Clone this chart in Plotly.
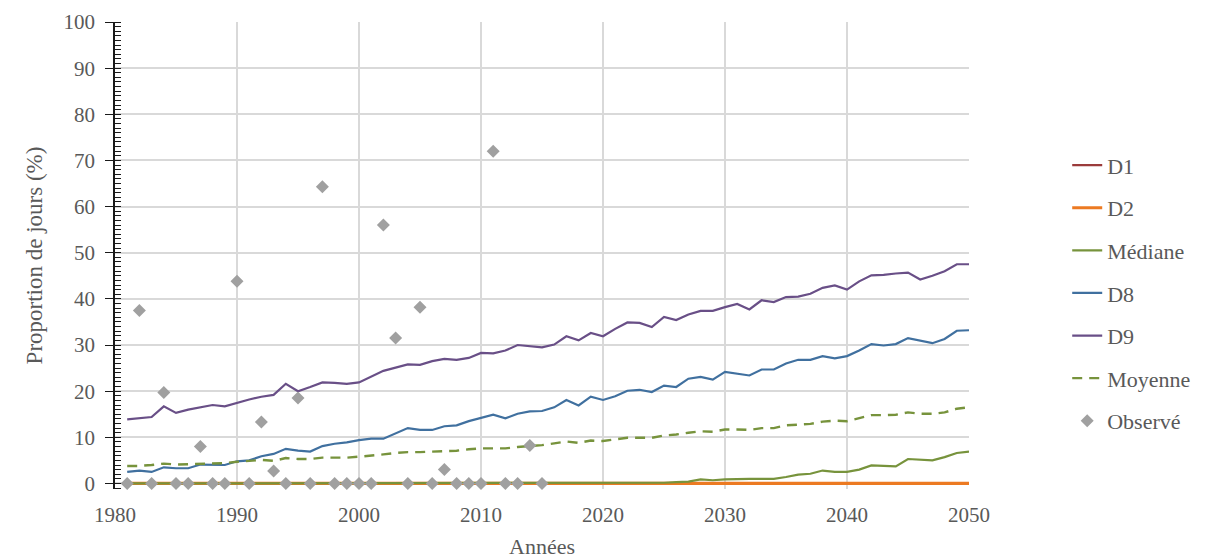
import plotly.graph_objects as go

# Années simulées et observées
years = list(range(1981, 2051))
obs_years = list(range(1981, 2016))

# Proportion de jours (%) par scénario
d1 = [0.0] * 70
d2 = [0.0] * 70
mediane = [0.0] * 35 + [
    0.0, 0.0, 0.0, 0.0, 0.0, 0.0, 0.05, 0.1, 0.1, 0.15,  # 2016-2025
    0.3, 0.4, 0.9, 0.7, 0.9, 1.0, 1.0, 1.0, 1.0, 1.4,    # 2026-2035
    1.9, 2.1, 2.8, 2.5, 2.5, 3.0, 3.9, 3.8, 3.7, 5.3,    # 2036-2045
    5.2, 5.0, 5.7, 6.6, 6.9,                             # 2046-2050
]
d8 = [
    2.5, 2.8, 2.5, 3.5, 3.3, 3.3, 4.1, 4.0, 4.0, 4.8,    # 1981-1990
    5.0, 5.9, 6.4, 7.5, 7.1, 6.9, 8.1, 8.6, 8.9, 9.4,    # 1991-2000
    9.7, 9.7, 10.8, 12.0, 11.6, 11.6, 12.4, 12.6, 13.5, 14.2,  # 2001-2010
    14.9, 14.1, 15.1, 15.6, 15.7, 16.5, 18.1, 16.9, 18.8, 18.1,  # 2011-2020
    18.9, 20.1, 20.3, 19.8, 21.2, 20.9, 22.7, 23.1, 22.5, 24.2,  # 2021-2030
    23.8, 23.4, 24.7, 24.7, 26.0, 26.8, 26.8, 27.6, 27.1, 27.6,  # 2031-2040
    28.8, 30.2, 29.9, 30.2, 31.5, 30.9, 30.4, 31.3, 33.1, 33.2,  # 2041-2050
]
d9 = [
    13.9, 14.1, 14.4, 16.7, 15.3, 16.0, 16.5, 17.0, 16.7, 17.5,  # 1981-1990
    18.2, 18.8, 19.2, 21.6, 20.0, 20.9, 21.9, 21.8, 21.6, 21.9,  # 1991-2000
    23.1, 24.4, 25.1, 25.8, 25.7, 26.5, 27.0, 26.8, 27.2, 28.3,  # 2001-2010
    28.2, 28.8, 30.0, 29.8, 29.5, 30.1, 31.9, 31.0, 32.6, 31.9,  # 2011-2020
    33.5, 34.9, 34.8, 33.9, 36.1, 35.4, 36.6, 37.4, 37.4, 38.2,  # 2021-2030
    38.9, 37.7, 39.7, 39.3, 40.4, 40.5, 41.1, 42.4, 42.9, 42.0,  # 2031-2040
    43.8, 45.1, 45.2, 45.5, 45.7, 44.2, 45.0, 46.0, 47.5, 47.5,  # 2041-2050
]
moyenne = [
    3.8, 3.8, 4.0, 4.3, 4.1, 4.2, 4.3, 4.4, 4.4, 4.7,    # 1981-1990
    4.9, 5.1, 4.9, 5.5, 5.3, 5.3, 5.6, 5.6, 5.6, 5.8,    # 1991-2000
    6.0, 6.3, 6.6, 6.8, 6.8, 6.9, 7.1, 7.1, 7.4, 7.6,    # 2001-2010
    7.6, 7.6, 7.9, 8.1, 8.3, 8.7, 9.1, 8.8, 9.3, 9.2,    # 2011-2020
    9.5, 9.9, 9.9, 9.9, 10.4, 10.6, 11.0, 11.3, 11.2, 11.7,  # 2021-2030
    11.7, 11.6, 12.0, 12.0, 12.6, 12.8, 12.9, 13.4, 13.6, 13.5,  # 2031-2040
    14.1, 14.8, 14.8, 14.9, 15.4, 15.1, 15.1, 15.4, 16.2, 16.5,  # 2041-2050
]
observe = [
    0, 37.5, 0, 19.7, 0, 0, 8.0, 0, 0, 43.8,             # 1981-1990
    0, 13.3, 2.7, 0, 18.5, 0, 64.3, 0, 0, 0,             # 1991-2000
    0, 56.0, 31.5, 0, 38.2, 0, 3.0, 0, 0, 0,             # 2001-2010
    72.0, 0, 0, 8.2, 0,                                  # 2011-2015
]

FONT = "Times New Roman, Liberation Serif, DejaVu Serif, serif"
TEXT = "#595959"

series = [
    ("D1", d1, "#9B3B3B", 2.2, "solid"),
    ("D2", d2, "#EC7A22", 3.2, "solid"),
    ("Médiane", mediane, "#77933C", 2.2, "solid"),
    ("D8", d8, "#40709F", 2.2, "solid"),
    ("D9", d9, "#694F87", 2.2, "solid"),
    ("Moyenne", moyenne, "#77933C", 2.4, "10px,7px"),
]

fig = go.Figure()
for name, vals, color, width, dash in series:
    fig.add_trace(go.Scatter(
        x=years, y=vals, name=name, mode="lines",
        line=dict(color=color, width=width, dash=dash),
        legendgroup=name,
    ))

fig.add_trace(go.Scatter(
    x=obs_years, y=observe, name="Observé", mode="markers",
    marker=dict(symbol="diamond", size=10, color="#A0A0A0"),
    legendgroup="Observé", cliponaxis=False,
))

fig.update_layout(
    width=1208, height=559,
    margin=dict(l=115, r=236, t=22, b=70),
    paper_bgcolor="white", plot_bgcolor="white",
    font=dict(family=FONT, color=TEXT, size=21),
    showlegend=True,
    legend=dict(
        x=1.115, xanchor="left", y=0.419, yanchor="middle",
        font=dict(family=FONT, size=22, color=TEXT),
        tracegroupgap=11, bgcolor="rgba(0,0,0,0)",
    ),
    xaxis=dict(
        range=[1980, 2050], tick0=1980, dtick=10,
        showgrid=True, gridcolor="#D9D9D9", gridwidth=1.5,
        zeroline=False, showline=False, ticks="",
        ticklabelstandoff=11, automargin=False,
        tickfont=dict(family=FONT, size=21, color=TEXT),
        title=dict(text="Années", font=dict(family=FONT, size=22, color=TEXT), standoff=16),
    ),
    yaxis=dict(
        range=[-1.2, 100], tickvals=list(range(0, 101, 10)),
        showgrid=True, gridcolor="#D9D9D9", gridwidth=1.5,
        zeroline=False, showline=True, linecolor="#1A1A1A", linewidth=1.6,
        ticks="outside", ticklen=8, tickcolor="#1A1A1A", tickwidth=1.4,
        minor=dict(dtick=1, tick0=0, ticks="inside", ticklen=6, tickcolor="#1A1A1A",
                   tickwidth=1, showgrid=False),
        ticklabelstandoff=6, automargin=False,
        tickfont=dict(family=FONT, size=21, color=TEXT),
        title=dict(text="Proportion de jours (%)", font=dict(family=FONT, size=23, color=TEXT),
                   standoff=14),
    ),
)

fig.write_html("out.html")
